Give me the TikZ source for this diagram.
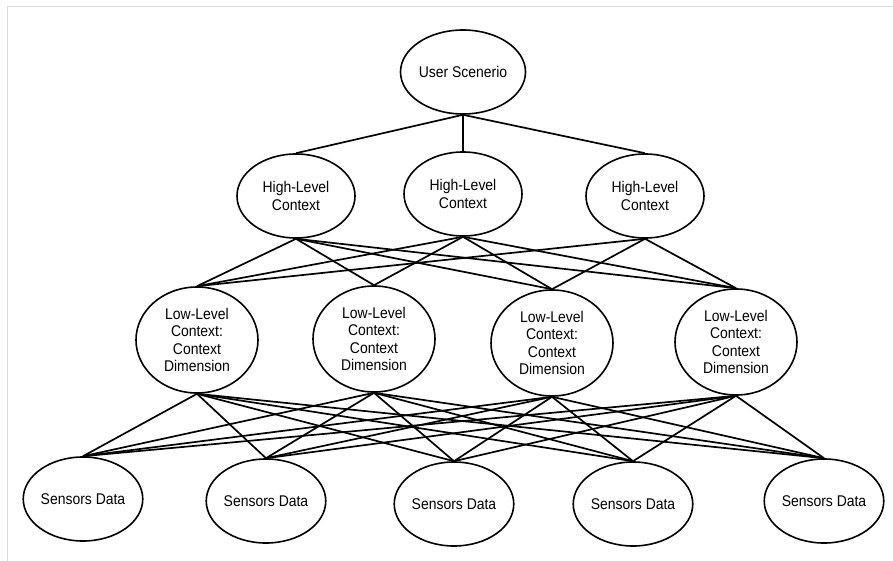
\documentclass[tikz,border=0pt]{standalone}
\usepackage{fontspec}
\setmainfont{Liberation Sans}[FakeStretch=0.9]
\usetikzlibrary{shapes.geometric}

\begin{document}
\begin{tikzpicture}[x=1pt, y=-1pt, line width=1.7pt]
        \tikzstyle{every node}=[font=\fontsize{15.5}{17.6}\selectfont]
        \tikzstyle{ctx}=[ellipse, draw=black, line width=1.6pt, fill=white, inner sep=0pt, align=center]
        \tikzstyle{high}=[ctx, minimum width=118, minimum height=84]
        \tikzstyle{low}=[ctx, minimum width=122, minimum height=106]
        \tikzstyle{sensor}=[ctx, minimum width=104, minimum height=84]
        \useasboundingbox (0,0) rectangle (893,561);
        \draw[black!14, line width=1pt] (7,561) -- (7,7) -- (893,7);
        % nodes first, edges drawn from their anchors
        \node[ctx, minimum width=100, minimum height=84] (U) at (463,72) {User Scenerio};
        \node[high]    (H1) at (296,196) {High-Level\\Context};
        \node[high]    (H2) at (463,194) {High-Level\\Context};
        \node[high]    (H3) at (645,196) {High-Level\\Context};
        \node[low]     (L1) at (197,340) {Low-Level\\Context:\\Context\\Dimension};
        \node[low]     (L2) at (374,339) {Low-Level\\Context:\\Context\\Dimension};
        \node[low]     (L3) at (552,343) {Low-Level\\Context:\\Context\\Dimension};
        \node[low]     (L4) at (736,342) {Low-Level\\Context:\\Context\\Dimension};
        \node[sensor]  (S1) at (83,499)  {Sensors Data};
        \node[sensor]  (S2) at (266,501) {Sensors Data};
        \node[sensor]  (S3) at (454,504) {Sensors Data};
        \node[sensor]  (S4) at (633,504) {Sensors Data};
        \node[sensor]  (S5) at (824,501) {Sensors Data};
        \foreach \h in {H1,H2,H3}
          \draw (U.south) -- (\h.north);
        \foreach \h/\l in {H1/L1,H1/L2,H1/L3,H1/L4,H2/L1,H2/L2,H2/L3,H2/L4,H3/L1,H3/L3,H3/L4}
          \draw (\h.south) -- (\l.north);
        \foreach \l in {L1,L2,L3,L4}
          \foreach \s in {S1,S2,S3,S4,S5}
            \draw (\l.south) -- (\s.north);
      \end{tikzpicture}
\end{document}
